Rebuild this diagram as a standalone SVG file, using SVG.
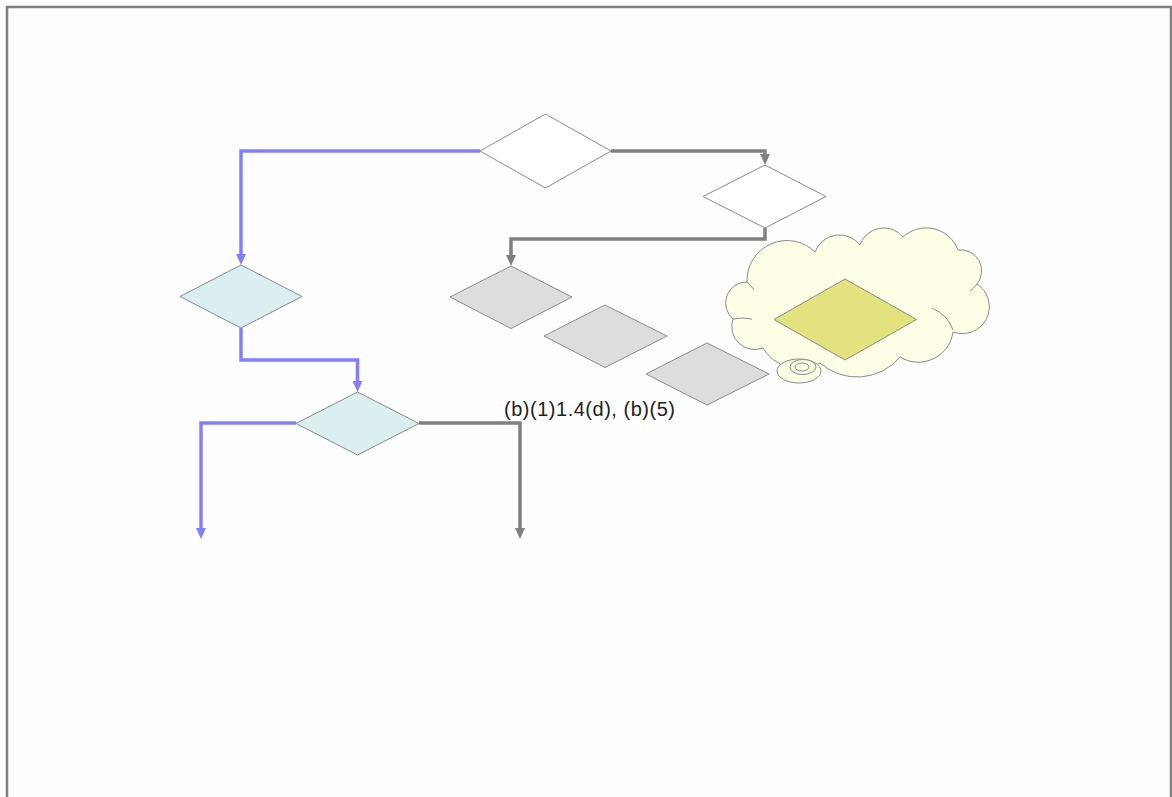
<svg xmlns="http://www.w3.org/2000/svg" width="1172" height="797" viewBox="0 0 1172 797">
<style>
.d{stroke:#8a8a8a;stroke-width:1}
.w{fill:#ffffff}
.b{fill:#dbeef0}
.g{fill:#dddddd}
.y{fill:#e2e27e}
.cb{fill:none;stroke:#8080ff;stroke-width:3.5}
.cg{fill:none;stroke:#808080;stroke-width:3.5}
.cl{fill:#fefee6;stroke:#8a8a8a;stroke-width:1}
.t{font-family:"Liberation Sans",Arial,sans-serif;font-size:20px;fill:#222222}
</style>
<defs>
<marker id="ab" markerUnits="userSpaceOnUse" markerWidth="12" markerHeight="10" refX="3" refY="5" orient="auto"><path d="M0,0 L11,5 L0,10 z" fill="#8080ff"/></marker>
<marker id="ag" markerUnits="userSpaceOnUse" markerWidth="12" markerHeight="10" refX="3" refY="5" orient="auto"><path d="M0,0 L11,5 L0,10 z" fill="#808080"/></marker>
</defs>
<rect x="0" y="0" width="1172" height="797" fill="#fdfdfd"/>
<rect x="7" y="7" width="1164" height="800" fill="none" stroke="#808080" stroke-width="2.5"/>
<g id="connectors">
<path class="cb" d="M480,151 H241 V257" marker-end="url(#ab)"/>
<path class="cg" d="M611,151 H765 V157" marker-end="url(#ag)"/>
<path class="cg" d="M765,228 V239 H511 V258" marker-end="url(#ag)"/>
<path class="cb" d="M241,328 V360 H357.5 V384" marker-end="url(#ab)"/>
<path class="cb" d="M296,423 H201 V531" marker-end="url(#ab)"/>
<path class="cg" d="M419,423 H520 V531" marker-end="url(#ag)"/>
</g>
<g id="n1"><polygon class="d w" points="480,151 545.5,114 611,151 545.5,188"/></g>
<g id="n2"><polygon class="d b" points="180,296.5 241,265 302,296.5 241,328"/></g>
<g id="n3"><polygon class="d w" points="703,196.5 765,165 826,196.5 765,228"/></g>
<g id="n4"><polygon class="d g" points="450,297 511,266 572,297 511,328.5"/></g>
<g id="n5"><polygon class="d g" points="544,336 605,305 667,336 605,367.5"/></g>
<g id="n6"><polygon class="d g" points="646,374 707,343 769,374 707,405"/></g>
<g id="n7"><polygon class="d b" points="296,423.5 357.5,392 419,423.5 357.5,455"/></g>
<g id="cloud">
<path class="cl" d="M733,319 A21,21 0 0 1 747,282 A40,40 0 0 1 815,252 A26,26 0 0 1 860,245 A25,25 0 0 1 903,237 A34,34 0 0 1 958,250 A21,21 0 0 1 977,284 A27,27 0 0 1 953,332 A35,35 0 0 1 900,357 A56,56 0 0 1 820,363 A42,42 0 0 1 763,348 A23,23 0 0 1 733,319 Z"/>
<path fill="none" stroke="#8a8a8a" stroke-width="1" d="M932,308 Q948,315 953,330 M747,282 Q752,286 754,290 M733,319 Q743,317 752,319 M977,284 Q973,289 970,291"/>
<ellipse class="cl" cx="799" cy="371" rx="22" ry="12"/>
<ellipse class="cl" cx="803" cy="367" rx="13" ry="7.5"/>
<ellipse class="cl" cx="802" cy="367" rx="7" ry="4"/>
<polygon class="d y" points="774,319.5 845,279 916.5,319.5 845,360"/>
</g>
<text class="t" x="504" y="416" textLength="171">(b)(1)1.4(d), (b)(5)</text>
</svg>
